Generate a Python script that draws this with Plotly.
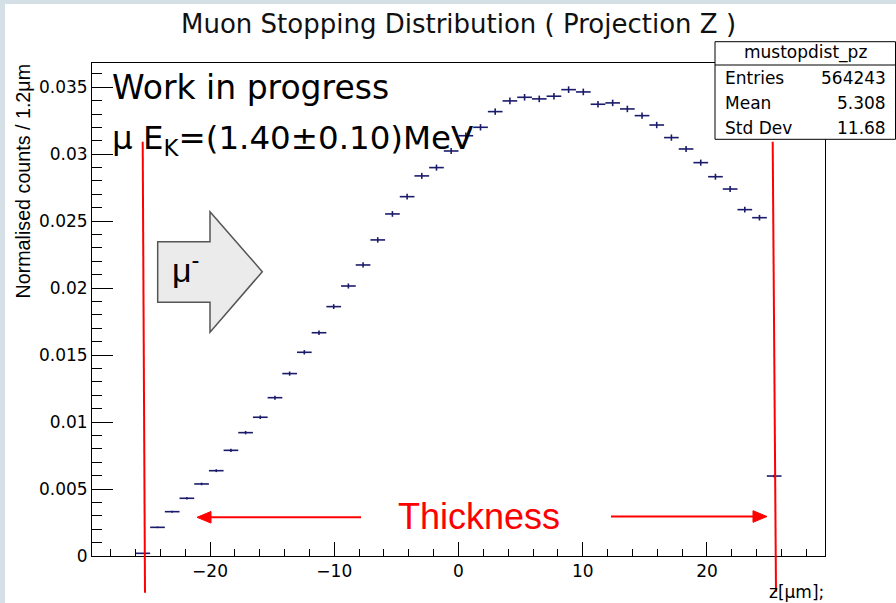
import numpy as np
import plotly.graph_objects as go

# ---------------- data ----------------
hist_name = "mustopdist_pz"
entries = 564243
mean_val = "5.308"
std_val = "11.68"
bin_low, bin_high, n_bins = -26.0, 26.0, 44

counts_norm = [
    0.00020, 0.00214, 0.00331, 0.00431, 0.00538, 0.00637, 0.00789, 0.00921, 0.01036, 0.01182,
    0.01362, 0.01521, 0.01667, 0.01862, 0.02016, 0.02173, 0.02360, 0.02554, 0.02683, 0.02838,
    0.02900, 0.03024, 0.03138, 0.03201, 0.03318, 0.03398, 0.03425, 0.03413, 0.03433, 0.03482,
    0.03465, 0.03373, 0.03383, 0.03338, 0.03288, 0.03218, 0.03124, 0.03039, 0.02937, 0.02832,
    0.02740, 0.02586, 0.02526, 0.00597,
]

x_tickvals = [-20, -10, 0, 10, 20]
x_ticktext = ["\u221220", "\u221210", "0", "10", "20"]
y_tickvals = [0, 0.005, 0.01, 0.015, 0.02, 0.025, 0.03, 0.035]
y_ticktext = ["0", "0.005", "0.01", "0.015", "0.02", "0.025", "0.03", "0.035"]

title_text = "Muon Stopping Distribution ( Projection Z )"
y_title = "Normalised counts / 1.2\u03bcm"
x_title = "z[\u03bcm];"
note1 = "Work in progress"
note2 = "\u03bc E<sub>K</sub>=(1.40\u00b10.10)MeV"
thick_text = "Thickness"
arrow_text = "\u03bc<sup>-</sup>"

# ---------------- derived ----------------
edges = np.linspace(bin_low, bin_high, n_bins + 1)
centers = 0.5 * (edges[:-1] + edges[1:])
half_w = 0.5 * (edges[1] - edges[0])
vals = np.array(counts_norm)
errs = np.sqrt(vals / entries)

W, H = 896, 603
L, R, T, B = 92, 71, 63, 47
PW, PH = W - L - R, H - T - B


def px(x):
    return (x - L) / PW


def py(y):
    return (H - B - y) / PH


def poly(pts):
    return "M " + " L ".join(f"{px(a):.5f},{py(b):.5f}" for a, b in pts) + " Z"


NAVY = "#1b1b6b"
HORIZ_FONT = "DejaVu Sans"

fig = go.Figure()
fig.add_trace(go.Scatter(
    x=centers, y=vals, mode="markers",
    marker=dict(size=0.1, color=NAVY),
    error_x=dict(type="constant", value=half_w, width=0, thickness=1.6, color=NAVY),
    error_y=dict(type="data", array=errs, width=0, thickness=1.6, color=NAVY),
    showlegend=False, hoverinfo="skip",
))

shapes = []
# light frame of the slide
shapes.append(dict(type="rect", xref="paper", yref="paper", x0=px(0), x1=px(5), y0=py(603), y1=py(0),
                   fillcolor="#d4e0e6", line=dict(width=0), layer="below"))
shapes.append(dict(type="rect", xref="paper", yref="paper", x0=px(0), x1=px(896), y0=py(4), y1=py(0),
                   fillcolor="#d4e0e6", line=dict(width=0), layer="below"))

# stats box
shapes.append(dict(type="rect", xref="paper", yref="paper", x0=px(715), x1=px(895.5), y0=py(139.3), y1=py(41.7),
                   fillcolor="white", line=dict(color="black", width=1), layer="above"))
shapes.append(dict(type="line", xref="paper", yref="paper", x0=px(715), x1=px(895.5), y0=py(65), y1=py(65),
                   line=dict(color="black", width=1), layer="above"))

# red thickness lines
shapes.append(dict(type="line", xref="paper", yref="paper", x0=px(142.7), x1=px(145), y0=py(141.7), y1=py(592.7),
                   line=dict(color="red", width=2), layer="above"))
shapes.append(dict(type="line", xref="paper", yref="paper", x0=px(772.7), x1=px(776), y0=py(141.7), y1=py(591.7),
                   line=dict(color="red", width=2), layer="above"))

# thickness arrows (line + filled head)
shapes.append(dict(type="line", xref="paper", yref="paper", x0=px(361), x1=px(208), y0=py(517.3), y1=py(517.3),
                   line=dict(color="red", width=2), layer="above"))
shapes.append(dict(type="path", xref="paper", yref="paper",
                   path=poly([(197, 517.3), (211, 511.5), (211, 523.1)]),
                   fillcolor="red", line=dict(color="red", width=1), layer="above"))
shapes.append(dict(type="line", xref="paper", yref="paper", x0=px(611), x1=px(756), y0=py(516.5), y1=py(516.5),
                   line=dict(color="red", width=2), layer="above"))
shapes.append(dict(type="path", xref="paper", yref="paper",
                   path=poly([(767, 516.5), (753, 510.7), (753, 522.3)]),
                   fillcolor="red", line=dict(color="red", width=1), layer="above"))

# block arrow
pts = [(157.7, 241.7), (210, 241.7), (210, 211.7), (262.3, 271.7), (210, 332.3), (210, 302.3), (157.7, 302.3)]
shapes.append(dict(type="path", xref="paper", yref="paper", path=poly(pts),
                   fillcolor="#ebebeb", line=dict(color="#555555", width=1.5), layer="above"))

ann = []
ann.append(dict(text=title_text, xref="paper", yref="paper", x=px(458.5), y=py(24), xanchor="center", yanchor="middle",
                showarrow=False, font=dict(family=HORIZ_FONT, size=26, color="#111111")))
ann.append(dict(text=y_title, xref="paper", yref="paper", x=px(23), y=py(62), xanchor="center", yanchor="top",
                textangle=-90, showarrow=False, font=dict(family="Liberation Sans", size=19.7, color="black")))
ann.append(dict(text=x_title, xref="paper", yref="paper", x=px(826), y=py(592), xanchor="right", yanchor="middle",
                showarrow=False, font=dict(family=HORIZ_FONT, size=17, color="black")))
ann.append(dict(text=note1, xref="paper", yref="paper", x=px(110), y=py(87), xanchor="left", yanchor="middle",
                showarrow=False, font=dict(family=HORIZ_FONT, size=33, color="black")))
ann.append(dict(text=note2, xref="paper", yref="paper", x=px(110), y=py(140), xanchor="left", yanchor="middle",
                showarrow=False, font=dict(family=HORIZ_FONT, size=32.5, color="black")))
ann.append(dict(text=thick_text, xref="paper", yref="paper", x=px(479), y=py(516), xanchor="center", yanchor="middle",
                showarrow=False, font=dict(family="Liberation Sans", size=36, color="red")))
ann.append(dict(text=arrow_text, xref="paper", yref="paper", x=px(186), y=py(267), xanchor="center", yanchor="middle",
                showarrow=False, font=dict(family="Liberation Sans", size=34, color="black")))
# stats box text
sf = dict(family=HORIZ_FONT, size=17, color="black")
ann.append(dict(text=hist_name, xref="paper", yref="paper", x=px(805), y=py(53), xanchor="center", yanchor="middle",
                showarrow=False, font=sf))
rows = [("Entries", str(entries), 78), ("Mean", mean_val, 103), ("Std Dev", std_val, 128)]
for lab, v, yy in rows:
    ann.append(dict(text=lab, xref="paper", yref="paper", x=px(723), y=py(yy), xanchor="left", yanchor="middle",
                    showarrow=False, font=sf))
    ann.append(dict(text=v, xref="paper", yref="paper", x=px(888), y=py(yy), xanchor="right", yanchor="middle",
                    showarrow=False, font=sf))

fig.update_layout(
    width=W, height=H,
    margin=dict(l=L, r=R, t=T, b=B, pad=0),
    paper_bgcolor="white", plot_bgcolor="white",
    shapes=shapes, annotations=ann,
    showlegend=False,
    xaxis=dict(range=[-29.5, 29.5], showgrid=False, zeroline=False, showline=True, linecolor="black", linewidth=1,
               mirror=True, ticks="inside", ticklen=14, tickwidth=1, tickcolor="black",
               tickvals=x_tickvals, ticktext=x_ticktext,
               minor=dict(ticks="inside", ticklen=7, dtick=2, tick0=0, tickcolor="black", tickwidth=1, showgrid=False),
               tickfont=dict(family=HORIZ_FONT, size=17, color="black")),
    yaxis=dict(range=[0, 0.03681], showgrid=False, zeroline=False, showline=True, linecolor="black", linewidth=1,
               mirror=True, ticks="inside", ticklen=21, tickwidth=1, tickcolor="black",
               tickvals=y_tickvals, ticktext=y_ticktext,
               minor=dict(ticks="inside", ticklen=10, dtick=0.001, tick0=0, tickcolor="black", tickwidth=1, showgrid=False),
               tickfont=dict(family=HORIZ_FONT, size=17, color="black")),
)

fig.write_html("out.html")
